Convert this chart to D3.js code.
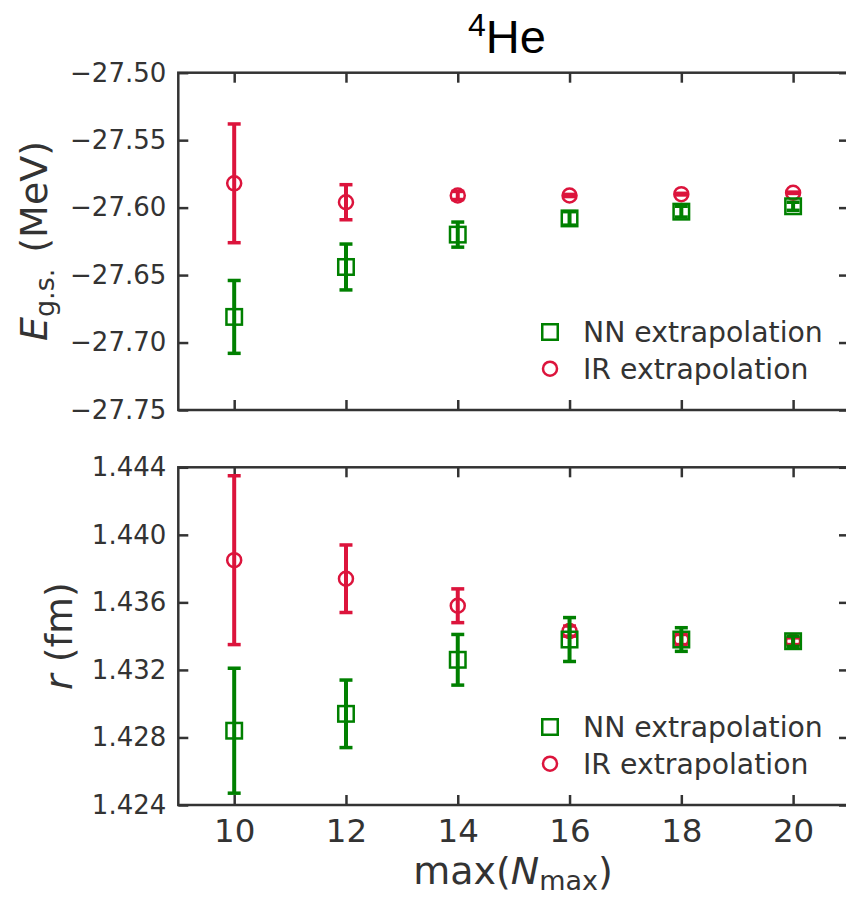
<!DOCTYPE html>
<html>
<head>
<meta charset="utf-8">
<script src="https://cdn.jsdelivr.net/npm/d3@7"></script>
<style>
  body { margin: 0; background: #fff; }
  svg { display: block; }
</style>
</head>
<body>
<div id="chart-area"></div>
<script>
// data
const nmax = [10, 12, 14, 16, 18, 20]
const nnEnergy = [-27.681, -27.644, -27.620, -27.608, -27.603, -27.599]
const nnEnergyErr = [0.027, 0.017, 0.0093, 0.005, 0.004, 0.003]
const irEnergy = [-27.582, -27.596, -27.591, -27.591, -27.590, -27.589]
const irEnergyErr = [0.044, 0.013, 0.003, 0.0008, 0.0006, 0.0005]
const nnRadius = [1.4284, 1.4294, 1.4326, 1.4338, 1.4338, 1.4337]
const nnRadiusErr = [0.0037, 0.0020, 0.0015, 0.0013, 0.0007, 0.0003]
const irRadius = [1.4385, 1.4374, 1.4358, 1.4343, 1.4338, 1.4337]
const irRadiusErr = [0.0050, 0.0020, 0.0010, 0.0003, 0.0003, 0.0002]
const energyTicks = [-27.50, -27.55, -27.60, -27.65, -27.70, -27.75]
const radiusTicks = [1.444, 1.440, 1.436, 1.432, 1.428, 1.424]
const legendLabels = ["NN extrapolation", "IR extrapolation"]

const GREEN = "#008000"
const RED = "#dc143c"
const INK = "#333333"
const FONT = "DejaVu Sans"

const svg = d3.select("#chart-area").append("svg")
  .attr("width", 846)
  .attr("height", 898)

// shared x scale
const x = d3.scaleLinear().domain([9, 21]).range([178.3, 849])

const panels = [
  { top: 72.7, bottom: 410, domain: [-27.75, -27.50], ticks: energyTicks, fmt: d3.format(".2f"),
    nn: nnEnergy, nnErr: nnEnergyErr, ir: irEnergy, irErr: irEnergyErr, xLabels: false },
  { top: 467.3, bottom: 805, domain: [1.424, 1.444], ticks: radiusTicks, fmt: d3.format(".3f"),
    nn: nnRadius, nnErr: nnRadiusErr, ir: irRadius, irErr: irRadiusErr, xLabels: true }
]

function styleAxis(sel, size) {
  sel.select(".domain").remove()
  sel.selectAll(".tick line").attr("stroke", INK).attr("stroke-width", 2.5)
  sel.selectAll("text")
    .attr("font-family", FONT)
    .attr("font-size", size)
    .attr("fill", INK)
}

function drawSeries(g, y, vals, errs, color, shape) {
  const pts = nmax.map((n, i) => ({ n: n, v: vals[i], e: errs[i] }))
  const s = g.append("g")
  // error bars
  s.selectAll(".bar").data(pts).join("line")
    .attr("x1", d => x(d.n)).attr("x2", d => x(d.n))
    .attr("y1", d => y(d.v - d.e)).attr("y2", d => y(d.v + d.e))
    .attr("stroke", color).attr("stroke-width", 4)
  s.selectAll(".cap").data(pts.flatMap(d => [[d.n, d.v - d.e], [d.n, d.v + d.e]])).join("line")
    .attr("x1", d => x(d[0]) - 6.5).attr("x2", d => x(d[0]) + 6.5)
    .attr("y1", d => y(d[1])).attr("y2", d => y(d[1]))
    .attr("stroke", color).attr("stroke-width", 3.5)
  // open markers
  if (shape === "square") {
    s.selectAll("rect").data(pts).join("rect")
      .attr("x", d => x(d.n) - 7.75).attr("y", d => y(d.v) - 7.75)
      .attr("width", 15.5).attr("height", 15.5)
      .attr("fill", "none").attr("stroke", color).attr("stroke-width", 2.5)
  } else {
    s.selectAll("circle").data(pts).join("circle")
      .attr("cx", d => x(d.n)).attr("cy", d => y(d.v)).attr("r", 7)
      .attr("fill", "none").attr("stroke", color).attr("stroke-width", 2.5)
  }
}

panels.forEach(p => {
  const y = d3.scaleLinear().domain(p.domain).range([p.bottom, p.top])
  const g = svg.append("g")

  const left = g.append("g").attr("transform", `translate(${x.range()[0]},0)`)
    .call(d3.axisLeft(y).tickValues(p.ticks).tickFormat(p.fmt).tickSize(-10).tickSizeOuter(0).tickPadding(12))
  styleAxis(left, 26)

  const right = g.append("g").attr("transform", `translate(${x.range()[1]},0)`)
    .call(d3.axisRight(y).tickValues(p.ticks).tickFormat("").tickSize(-10).tickSizeOuter(0))
  styleAxis(right, 26)

  const top = g.append("g").attr("transform", `translate(0,${p.top})`)
    .call(d3.axisTop(x).tickValues(nmax).tickFormat("").tickSize(-10).tickSizeOuter(0))
  styleAxis(top, 32)

  const bottom = g.append("g").attr("transform", `translate(0,${p.bottom})`)
    .call(d3.axisBottom(x).tickValues(nmax).tickFormat(p.xLabels ? d3.format("d") : "")
      .tickSize(-10).tickSizeOuter(0).tickPadding(14))
  styleAxis(bottom, 32.5)

  // spines
  g.append("rect")
    .attr("x", x.range()[0]).attr("y", p.top)
    .attr("width", x.range()[1] - x.range()[0]).attr("height", p.bottom - p.top)
    .attr("fill", "none").attr("stroke", INK).attr("stroke-width", 2.5)

  drawSeries(g, y, p.ir, p.irErr, RED, "circle")
  drawSeries(g, y, p.nn, p.nnErr, GREEN, "square")

  // legend
  const lg = g.append("g").attr("transform", `translate(550,${p.bottom - 78})`)
  lg.append("rect").attr("x", -7.75).attr("y", -7.75).attr("width", 15.5).attr("height", 15.5)
    .attr("fill", "none").attr("stroke", GREEN).attr("stroke-width", 2.5)
  lg.append("circle").attr("cx", 0).attr("cy", 36.7).attr("r", 7)
    .attr("fill", "none").attr("stroke", RED).attr("stroke-width", 2.5)
  lg.selectAll("text").data(legendLabels).join("text")
    .attr("x", 33).attr("y", (d, i) => 10 + i * 36.6)
    .attr("font-family", FONT).attr("font-size", 28.3).attr("fill", INK)
    .text(d => d)
})

// title
const title = svg.append("text")
  .attr("x", 507).attr("y", 53)
  .attr("text-anchor", "middle")
  .attr("font-family", "Liberation Sans").attr("font-size", 47).attr("fill", "#000")
title.append("tspan").attr("font-size", 32).attr("dy", -17).text("4")
title.append("tspan").attr("dy", 17).text("He")

// y labels
const yLab1 = svg.append("text")
  .attr("transform", "translate(47,241) rotate(-90)")
  .attr("text-anchor", "middle")
  .attr("font-family", FONT).attr("font-size", 38).attr("fill", INK)
yLab1.append("tspan").attr("font-style", "italic").text("E")
yLab1.append("tspan").attr("font-size", 27).attr("dy", 7).text("g.s.")
yLab1.append("tspan").attr("dy", -7).attr("dx", 16).text("(MeV)")

const yLab2 = svg.append("text")
  .attr("transform", "translate(72,636) rotate(-90)")
  .attr("text-anchor", "middle")
  .attr("font-family", FONT).attr("font-size", 38).attr("fill", INK)
yLab2.append("tspan").attr("font-style", "italic").text("r")
yLab2.append("tspan").text(" (fm)")

// x label
const xLab = svg.append("text")
  .attr("x", 513).attr("y", 884)
  .attr("text-anchor", "middle")
  .attr("font-family", FONT).attr("font-size", 38).attr("fill", INK)
xLab.append("tspan").text("max(")
xLab.append("tspan").attr("font-style", "italic").text("N")
xLab.append("tspan").attr("font-size", 27).attr("dy", 6).text("max")
xLab.append("tspan").attr("dy", -6).text(")")
</script>
</body>
</html>
